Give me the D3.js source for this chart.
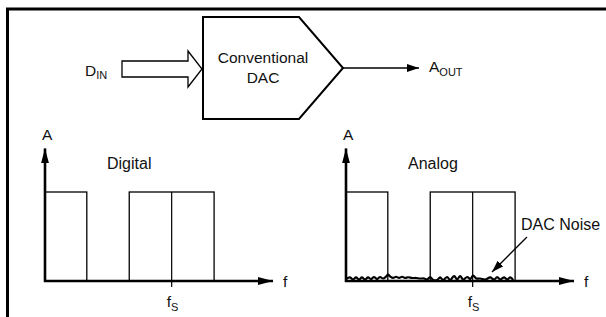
<!DOCTYPE html>
<html lang="en">
<head>
    <meta charset="UTF-8">
    <title>Conventional DAC spectrum</title>
    <script src="https://d3js.org/d3.v7.min.js"></script>
    <style>
        body { margin: 0; background: #fff; }
        svg { display: block; }
        text { font-family: "Liberation Sans", Arial, sans-serif; fill: #111; }
        .axis { stroke: #000; stroke-width: 2.6px; fill: none; }
        .band { stroke: #000; stroke-width: 1.3px; fill: none; }
        .fs-line { stroke: #000; stroke-width: 1.2px; }
        .noise { stroke: #000; stroke-width: 2.2px; fill: none; }
    </style>
</head>
<body>
<script>
    const width = 606, height = 317;

    // frequency in units of fs, amplitude relative to band height
    const bands = [[0, 0.33], [0.665, 1.335]];
    const fsMark = 1;
    const charts = ["Digital", "Analog"];

    const noiseFreq = [0, 0.032, 0.055, 0.079, 0.103, 0.126, 0.150, 0.174, 0.198, 0.221, 0.245, 0.269,
        0.292, 0.316, 0.332, 0.348, 0.372, 0.395, 0.419, 0.443, 0.466, 0.490, 0.522, 0.553, 0.585,
        0.617, 0.640, 0.664, 0.688, 0.719, 0.743, 0.767, 0.798, 0.822, 0.854, 0.877, 0.901, 0.925,
        0.957, 0.980, 1.004, 1.028, 1.059, 1.099, 1.138, 1.170, 1.194, 1.217, 1.249, 1.273, 1.296, 1.320];
    const noiseAmp = [0.022, 0.040, 0.017, 0.040, 0.017, 0.040, 0.017, 0.040, 0.022, 0.045, 0.022, 0.045,
        0.028, 0.050, 0.072, 0.051, 0.034, 0.048, 0.034, 0.048, 0.034, 0.042, 0.034, 0.034, 0.028,
        0.028, 0.017, 0.045, 0.011, 0.011, 0.040, 0.011, 0.045, 0.011, 0.056, 0.017, 0.056, 0.017,
        0.045, 0.022, 0.062, 0.028, 0.028, 0.017, 0.040, 0.017, 0.045, 0.017, 0.040, 0.017, 0.040, 0.011];

    const svg = d3.select("body").append("svg")
        .attr("width", width)
        .attr("height", height);

    const defs = svg.append("defs");
    defs.append("marker")
        .attr("id", "head")
        .attr("viewBox", "0 0 15 8")
        .attr("refX", 15)
        .attr("refY", 4)
        .attr("markerWidth", 15)
        .attr("markerHeight", 8)
        .attr("markerUnits", "userSpaceOnUse")
        .attr("orient", "auto")
        .append("path")
        .attr("d", "M0,0 L15,4 L0,8 Z")
        .attr("fill", "#000");

    defs.append("marker")
        .attr("id", "head-small")
        .attr("viewBox", "0 0 12 8")
        .attr("refX", 12)
        .attr("refY", 4)
        .attr("markerWidth", 12)
        .attr("markerHeight", 8)
        .attr("markerUnits", "userSpaceOnUse")
        .attr("orient", "auto")
        .append("path")
        .attr("d", "M0,0 L12,4 L0,8 Z")
        .attr("fill", "#000");

    // frame (only top and left edges are inside the picture)
    svg.append("path")
        .attr("d", "M7.5,330 L7.5,9 L620,9")
        .attr("fill", "none")
        .attr("stroke", "#000")
        .attr("stroke-width", 3);

    // block diagram
    svg.append("path")
        .attr("d", "M122,61 L188,61 L188,51 L202,69 L188,87 L188,77 L122,77 Z")
        .attr("fill", "#fff")
        .attr("stroke", "#000")
        .attr("stroke-width", 1.3);

    svg.append("path")
        .attr("d", "M203,17 L299,17 L343,68 L299,119 L203,119 Z")
        .attr("fill", "#fff")
        .attr("stroke", "#000")
        .attr("stroke-width", 2);

    svg.append("line")
        .attr("x1", 343).attr("y1", 68)
        .attr("x2", 419).attr("y2", 68)
        .attr("stroke", "#000")
        .attr("stroke-width", 1.3)
        .attr("marker-end", "url(#head-small)");

    const din = svg.append("text").attr("x", 85).attr("y", 76).style("font-size", "15.5px");
    din.append("tspan").text("D");
    din.append("tspan").attr("dy", 3).style("font-size", "11px").text("IN");

    const aout = svg.append("text").attr("x", 429).attr("y", 72).style("font-size", "15.5px");
    aout.append("tspan").text("A");
    aout.append("tspan").attr("dy", 4).style("font-size", "11px").text("OUT");

    svg.append("text").attr("x", 263).attr("y", 63)
        .attr("text-anchor", "middle").style("font-size", "15.5px").text("Conventional");
    svg.append("text").attr("x", 263).attr("y", 83)
        .attr("text-anchor", "middle").style("font-size", "15.5px").text("DAC");

    // spectra
    const origins = [45, 346];
    const y = d3.scaleLinear().domain([0, 1]).range([281, 192]);

    charts.forEach((name, i) => {
        const x = d3.scaleLinear().domain([0, 1.8]).range([origins[i], origins[i] + 228]);
        const g = svg.append("g");

        g.selectAll(".band")
            .data(bands)
            .enter()
            .append("rect")
            .attr("class", "band")
            .attr("x", d => x(d[0]))
            .attr("y", y(1))
            .attr("width", d => x(d[1]) - x(d[0]))
            .attr("height", y(0) - y(1));

        g.append("line")
            .attr("class", "fs-line")
            .attr("x1", x(fsMark)).attr("x2", x(fsMark))
            .attr("y1", y(1)).attr("y2", y(0) + 6);

        if (name === "Analog") {
            const line = d3.line()
                .x((d, k) => x(noiseFreq[k]))
                .y(d => y(d))
                .curve(d3.curveCatmullRom);
            g.append("path")
                .attr("class", "noise")
                .attr("d", line(noiseAmp));
        }

        g.append("line")
            .attr("class", "axis")
            .attr("x1", x(0)).attr("y1", y(0) + 1)
            .attr("x2", x(0)).attr("y2", y(1.49))
            .attr("marker-end", "url(#head)");
        g.append("line")
            .attr("class", "axis")
            .attr("x1", x(0) - 1).attr("y1", y(0))
            .attr("x2", x(1.8)).attr("y2", y(0))
            .attr("marker-end", "url(#head)");

        g.append("text").attr("x", x(0) - 3).attr("y", 140)
            .style("font-size", "15.5px").text("A");
        g.append("text").attr("x", x(1.8) + 10).attr("y", 287)
            .style("font-size", "15.5px").text("f");

        const fs = g.append("text").attr("x", x(fsMark) - 5).attr("y", 307)
            .style("font-size", "15.5px");
        fs.append("tspan").text("f");
        fs.append("tspan").attr("dy", 4).style("font-size", "11px").text("S");

        g.append("text").attr("x", x(0) + 62).attr("y", 169)
            .style("font-size", "16px").text(name);

        if (name === "Analog") {
            g.append("text").attr("x", 521).attr("y", 230)
                .style("font-size", "16px").text("DAC Noise");
            g.append("line")
                .attr("x1", 527).attr("y1", 237)
                .attr("x2", 492).attr("y2", 272)
                .attr("stroke", "#000")
                .attr("stroke-width", 1.3)
                .attr("marker-end", "url(#head-small)");
        }
    });
</script>
</body>
</html>
